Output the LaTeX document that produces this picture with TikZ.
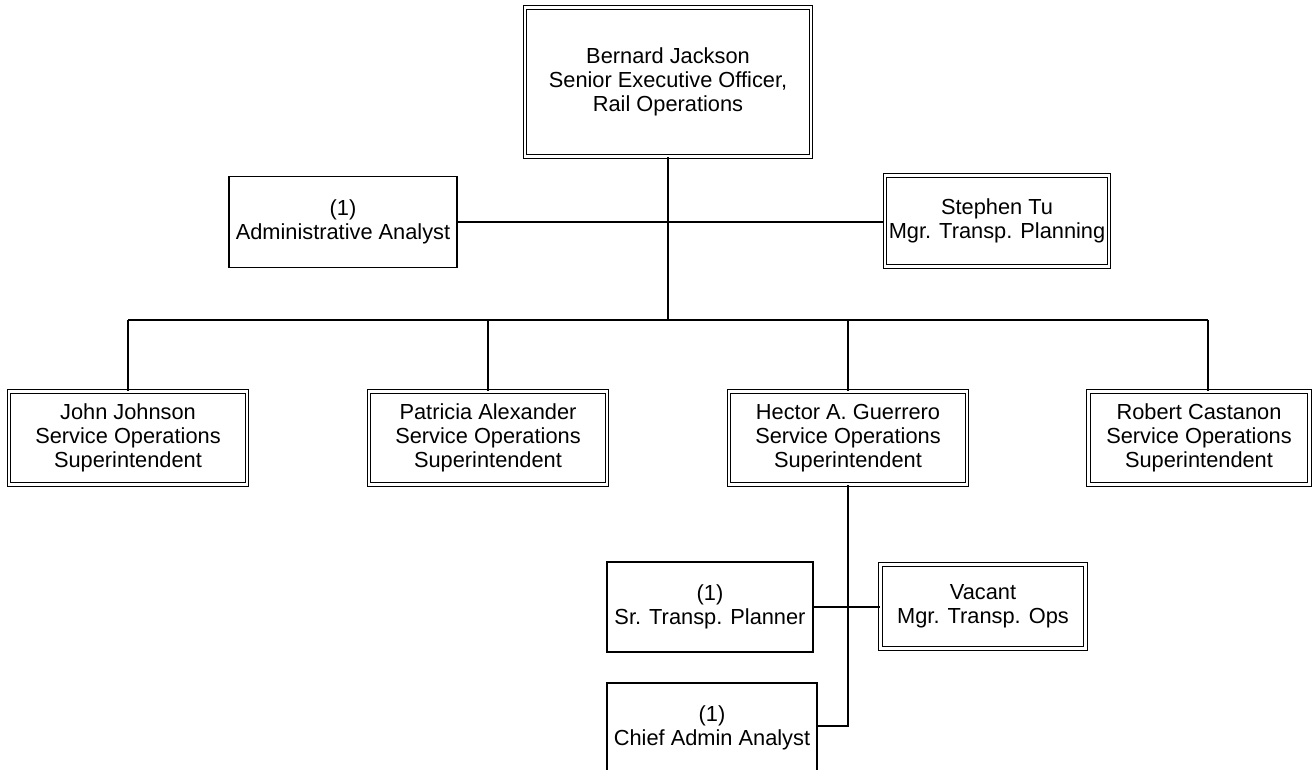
\documentclass[tikz,border=0pt]{standalone}
\usepackage{fontspec}
\setmainfont{Liberation Sans}
\begin{document}
\begin{tikzpicture}[x=1pt,y=-1pt,
  every node/.style={inner sep=0pt, align=center, font=\fontsize{21.8}{24}\selectfont},
  singlebox/.style={draw, line width=1.3pt, fill=white},
  dblbox/.style={draw, line width=1.1pt, double=white, double distance=2.2pt},
  conn/.style={line width=1.6pt}]
\useasboundingbox (0,0) rectangle (1312,769);
\clip (0,0) rectangle (1312,769);
\fill[white] (0,0) rectangle (1312,769);
% nodes
\node[dblbox, minimum width=286pt, minimum height=149pt] (top) at (668,82) {Bernard Jackson\\Senior Executive Officer,\\Rail Operations};
\node[singlebox, minimum width=228pt, minimum height=91pt] (admin) at (343,222) {(1)\\Administrative Analyst};
\node[dblbox, minimum width=224pt, minimum height=91pt] (tu) at (997,221) {Stephen Tu\\Mgr. Transp. Planning};
\node[dblbox, minimum width=238pt, minimum height=93pt] (john) at (128,438) {John Johnson\\Service Operations\\Superintendent};
\node[dblbox, minimum width=238pt, minimum height=93pt] (patricia) at (488,438) {Patricia Alexander\\Service Operations\\Superintendent};
\node[dblbox, minimum width=238pt, minimum height=93pt] (hector) at (848,438) {Hector A. Guerrero\\Service Operations\\Superintendent};
\node[dblbox, minimum width=221pt, minimum height=93pt] (robert) at (1199,438) {Robert Castanon\\Service Operations\\Superintendent};
\node[singlebox, minimum width=206pt, minimum height=90pt] (planner) at (710,607) {(1)\\Sr. Transp. Planner};
\node[dblbox, minimum width=205pt, minimum height=84pt] (vacant) at (983,606.5) {Vacant\\Mgr. Transp. Ops};
\node[singlebox, minimum width=210pt, minimum height=90pt] (chief) at (712,728) {(1)\\Chief Admin Analyst};
% connector coordinates
\coordinate (hub) at (668,320);
\coordinate (busL) at (128,320);
\coordinate (busR) at (1208,320);
\coordinate (bend) at (848,726);
\coordinate (side) at (668,222);
\coordinate (lower) at (848,607);
% connectors
\draw[conn] (top.south -| hub) -- (hub);
\draw[conn] (admin.east |- side) -- (tu.west |- side);
\draw[conn] (busL) -- (busR);
\draw[conn] (busL) -- (john.north -| busL);
\draw[conn] (patricia.north |- hub) -- (patricia.north);
\draw[conn] (hector.north |- hub) -- (hector.north);
\draw[conn] (busR) -- (robert.north -| busR);
\draw[conn] (hector.south -| bend) -- (bend) -- (chief.east |- bend);
\draw[conn] (planner.east |- lower) -- (vacant.west |- lower);
\end{tikzpicture}
\end{document}
